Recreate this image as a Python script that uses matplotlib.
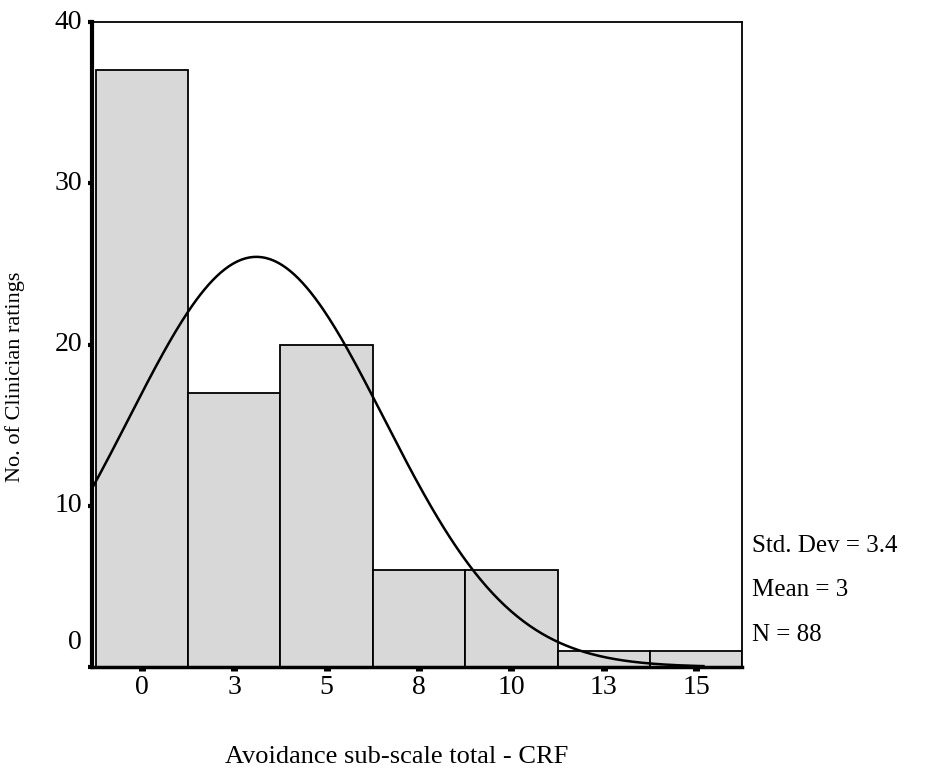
import numpy as np
import matplotlib.pyplot as plt
from matplotlib.transforms import ScaledTranslation

plt.rcParams['font.family'] = ['Liberation Serif', 'DejaVu Serif']

# histogram bins (midpoints) and counts
bin_mids = [0, 2.5, 5, 7.5, 10, 12.5, 15]
counts = [37, 17, 20, 6, 6, 1, 1]
tick_labels = ['0', '3', '5', '8', '10', '13', '15']
bin_width = 2.5

# stats shown in the chart (curve mean)
std_dev = 3.45
curve_mean = 3.1
n_total = 88

fig = plt.figure(figsize=(9.29, 7.76), dpi=100)
ax = fig.add_axes([0.099, 0.1405, 0.70, 0.831])

ax.bar(bin_mids, counts, width=bin_width, color='#d8d8d8', edgecolor='black', linewidth=1.3, zorder=2)

xs = np.linspace(-1.35, 15.2, 300)
ys = n_total * bin_width / (std_dev * np.sqrt(2 * np.pi)) * np.exp(-0.5 * ((xs - curve_mean) / std_dev) ** 2)
ax.plot(xs, ys, color='black', linewidth=1.8, zorder=3)

ax.set_xlim(-1.35, 16.25)
ax.set_ylim(0, 40)
ax.set_xticks(bin_mids)
ax.set_xticklabels(tick_labels, fontsize=20)
ax.set_yticks([0, 10, 20, 30, 40])
ax.set_yticklabels(['0', '10', '20', '30', '40'], fontsize=20)
ax.tick_params(axis='x', direction='out', length=3, width=5, pad=3)
ax.tick_params(axis='y', direction='out', length=3, width=3, pad=4)

for lab in ax.get_yticklabels():
    lab.set_verticalalignment('center')
ylabs = ax.get_yticklabels()
ylabs[0].set_transform(ylabs[0].get_transform() + ScaledTranslation(0, 0.24, fig.dpi_scale_trans))

ax.spines['left'].set_linewidth(3)
ax.spines['bottom'].set_linewidth(2.5)
ax.spines['top'].set_linewidth(1.3)
ax.spines['right'].set_linewidth(1.3)

fig.text(0.016, 0.515, 'No. of Clinician ratings', fontsize=16, rotation=90, ha='center', va='center')
fig.text(0.427, 0.025, 'Avoidance sub-scale total - CRF', fontsize=19, ha='center', va='center')

fig.text(0.809, 0.297, 'Std. Dev = 3.4', fontsize=18, va='center')
fig.text(0.809, 0.240, 'Mean = 3', fontsize=18, va='center')
fig.text(0.809, 0.182, 'N = 88', fontsize=18, va='center')

fig.savefig('out.png', dpi=100)
